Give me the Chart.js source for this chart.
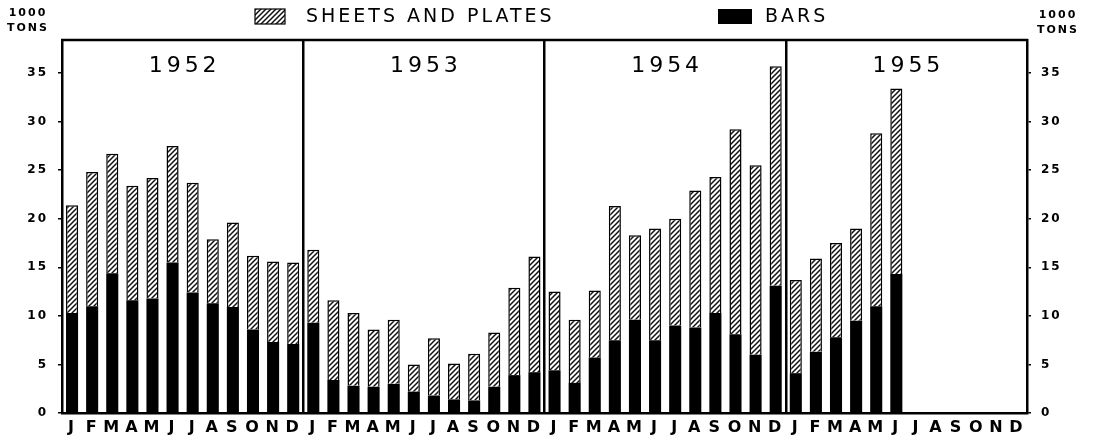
<!DOCTYPE html>
<html lang="en">
<head>
<meta charset="UTF-8">
<title>Sheets and plates / bars 1952-1955</title>
<script src="https://cdn.jsdelivr.net/npm/chart.js"></script>
<style>
  body { margin: 0; background: #fff; }
  #wrap { width: 1093px; height: 440px; }
</style>
</head>
<body>
<div id="wrap"><canvas id="grafico" width="1093" height="440"></canvas></div>
<script>
const years = ["1952", "1953", "1954", "1955"];
const months = ["J", "F", "M", "A", "M", "J", "J", "A", "S", "O", "N", "D"];
const yTicks = [0, 5, 10, 15, 20, 25, 30, 35];

// 1000 tons - bars (black part, bottom of each column)
const bars = [
  10.3, 11.0, 14.4, 11.6, 11.8, 15.5, 12.4, 11.3, 10.9, 8.6, 7.3, 7.1,
  9.3, 3.4, 2.8, 2.7, 3.0, 2.2, 1.8, 1.4, 1.3, 2.7, 3.9, 4.2,
  4.4, 3.1, 5.7, 7.5, 9.6, 7.5, 9.0, 8.8, 10.3, 8.1, 6.0, 13.1,
  4.1, 6.3, 7.8, 9.5, 11.0, 14.3, null, null, null, null, null, null
];
// 1000 tons - sheets and plates (hatched part, on top)
const sheets = [
  11.1, 13.8, 12.3, 11.8, 12.4, 12.0, 11.3, 6.6, 8.7, 7.6, 8.3, 8.4,
  7.5, 8.2, 7.5, 5.9, 6.6, 2.8, 5.9, 3.7, 4.8, 5.6, 9.0, 11.9,
  8.1, 6.5, 6.9, 13.8, 8.7, 11.5, 11.0, 14.1, 14.0, 21.1, 19.5, 22.6,
  9.6, 9.6, 9.7, 9.5, 17.8, 19.1, null, null, null, null, null, null
];

const labels = [];
years.forEach(() => months.forEach(m => labels.push(m)));

const FONT = "'DejaVu Sans', sans-serif";

// hachuras diagonais
function hatch() {
  const c = document.createElement("canvas");
  c.width = 5; c.height = 5;
  const g = c.getContext("2d");
  g.fillStyle = "#fff";
  g.fillRect(0, 0, 5, 5);
  g.strokeStyle = "#111";
  g.lineWidth = 1.5;
  g.beginPath();
  g.moveTo(-1, 6); g.lineTo(6, -1);
  g.moveTo(-1, 1); g.lineTo(1, -1);
  g.moveTo(4, 6); g.lineTo(6, 4);
  g.stroke();
  return g.createPattern(c, "repeat");
}
const hatchPattern = hatch();

const decor = {
  id: "decor",
  beforeDraw(chart) {
    chart.ctx.letterSpacing = "2px";
  },
  afterDraw(chart) {
    const { ctx, chartArea, scales } = chart;
    const x = scales.x;
    ctx.save();
    // borda superior
    ctx.strokeStyle = "#000";
    ctx.lineWidth = 2.5;
    ctx.beginPath();
    ctx.moveTo(chartArea.left - 1, chartArea.top);
    ctx.lineTo(chartArea.right + 1, chartArea.top);
    ctx.stroke();

    // anos
    ctx.fillStyle = "#000";
    ctx.textAlign = "center";
    ctx.textBaseline = "middle";
    ctx.font = "22px " + FONT;
    ctx.letterSpacing = "4px";
    years.forEach((yr, i) => {
      const a = x.getPixelForTick(i * 12);
      const b = x.getPixelForTick(i * 12 + 11);
      ctx.fillText(yr, (a + b) / 2 + 2, 66);
    });

    // legenda
    ctx.textAlign = "left";
    ctx.font = "19px " + FONT;
    ctx.letterSpacing = "3px";
    ctx.fillStyle = hatchPattern;
    ctx.fillRect(255, 9, 30, 15);
    ctx.strokeStyle = "#000";
    ctx.lineWidth = 1.2;
    ctx.strokeRect(255, 9, 30, 15);
    ctx.fillStyle = "#000";
    ctx.fillText("SHEETS AND PLATES", 306, 17);
    ctx.fillRect(718, 9, 34, 15);
    ctx.fillText("BARS", 765, 17);

    // unidade
    ctx.font = "bold 11px " + FONT;
    ctx.letterSpacing = "2px";
    ctx.textAlign = "center";
    ctx.fillText("1000", 28, 13);
    ctx.fillText("TONS", 28, 28);
    ctx.fillText("1000", 1058, 15);
    ctx.fillText("TONS", 1058, 30);
    ctx.restore();
    ctx.letterSpacing = "0px";
  }
};

const yAxis = (pos, w) => ({
  position: pos,
  stacked: true,
  min: 0,
  max: 38.4,
  afterBuildTicks: s => { s.ticks = yTicks.map(v => ({ value: v })); },
  ticks: { color: "#000", font: { family: FONT, size: 12, weight: "bold" }, padding: 10 },
  grid: { drawOnChartArea: false, tickLength: 4, color: "#000", lineWidth: 1.5 },
  border: { color: "#000", width: 2.5 },
  afterFit: s => { s.width = w; }
});

new Chart(document.getElementById("grafico"), {
  type: "bar",
  data: {
    labels: labels,
    datasets: [
      {
        label: "BARS",
        data: bars,
        backgroundColor: "#000",
        borderWidth: 0,
        barPercentage: 0.6,
        categoryPercentage: 1
      },
      {
        label: "SHEETS AND PLATES",
        data: sheets,
        backgroundColor: hatchPattern,
        borderColor: "#000",
        borderWidth: 1.5,
        barPercentage: 0.6,
        categoryPercentage: 1
      }
    ]
  },
  options: {
    responsive: false,
    animation: false,
    layout: { padding: { top: 40, left: 0, right: 0, bottom: 0 } },
    plugins: { legend: { display: false }, tooltip: { enabled: false } },
    scales: {
      x: {
        stacked: true,
        offset: true,
        ticks: { autoSkip: false, maxRotation: 0, color: "#000", font: { family: FONT, size: 16, weight: "bold" }, padding: 5 },
        grid: {
          offset: true,
          drawTicks: false,
          lineWidth: 2.5,
          color: c => (c.index % 12 === 0 && c.index > 0 && c.index < 48) ? "#000" : "rgba(0,0,0,0)"
        },
        border: { display: true, color: "#000", width: 2.5 },
        afterFit: s => { s.height = 27; }
      },
      y: yAxis("left", 62),
      y2: yAxis("right", 66)
    }
  },
  plugins: [decor]
});
</script>
</body>
</html>
